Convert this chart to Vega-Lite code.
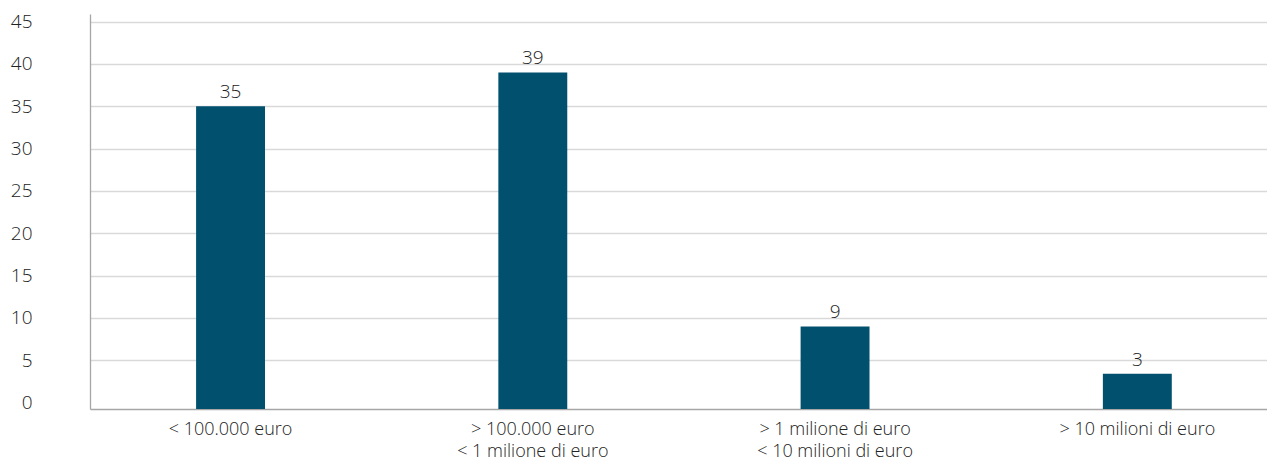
{
  "$schema": "https://vega.github.io/schema/vega-lite/v6.json",
  "autosize": {"type": "none"},
  "padding": {"left": 90, "top": 14, "right": 0, "bottom": 54},
  "width": 1177,
  "height": 395,
  "background": "white",
  "config": {
    "view": {"stroke": null},
    "font": "Open Sans"
  },
  "data": {
    "values": [
      {"fascia": "< 100.000 euro", "valore": 35},
      {"fascia": "> 100.000 euro|< 1 milione di euro", "valore": 39},
      {"fascia": "> 1 milione di euro|< 10 milioni di euro", "valore": 9},
      {"fascia": "> 10 milioni di euro", "valore": 3.4}
    ]
  },
  "encoding": {
    "x": {
      "field": "fascia",
      "type": "nominal",
      "sort": null,
      "scale": {"paddingInner": 0.772, "paddingOuter": 0.333, "align": 0.527},
      "axis": {
        "title": null,
        "labelAngle": 0,
        "labelExpr": "split(datum.label, '|')",
        "ticks": false,
        "labelPadding": 11,
        "labelFontSize": 18,
        "labelFontWeight": 300,
        "labelColor": "#222222",
        "labelLineHeight": 22,
        "domainColor": "#a6a6a6",
        "domainWidth": 1.3,
        "grid": false
      }
    }
  },
  "layer": [
    {
      "mark": {"type": "bar", "color": "#00506E"},
      "encoding": {
        "y": {
          "field": "valore",
          "type": "quantitative",
          "scale": {"domain": [-0.75, 45.9], "nice": false, "zero": false},
          "axis": {
            "title": null,
            "values": [0, 5, 10, 15, 20, 25, 30, 35, 40, 45],
            "ticks": false,
            "labelPadding": 58,
            "labelFontSize": 19,
            "labelFontWeight": 300,
            "labelColor": "#222222",
            "gridColor": "#d9d9d9",
            "gridWidth": 1.3,
            "gridOpacity": {"condition": {"test": "datum.value == 0", "value": 0}, "value": 1},
            "domainColor": "#a6a6a6",
            "domainWidth": 1.3
          }
        },
        "y2": {"datum": -0.75}
      }
    },
    {
      "mark": {"type": "text", "baseline": "alphabetic", "dy": -8, "fontSize": 19, "fontWeight": 300, "color": "#222222"},
      "encoding": {
        "y": {"field": "valore", "type": "quantitative"},
        "text": {"field": "valore", "type": "quantitative", "format": ".0f"}
      }
    }
  ]
}
